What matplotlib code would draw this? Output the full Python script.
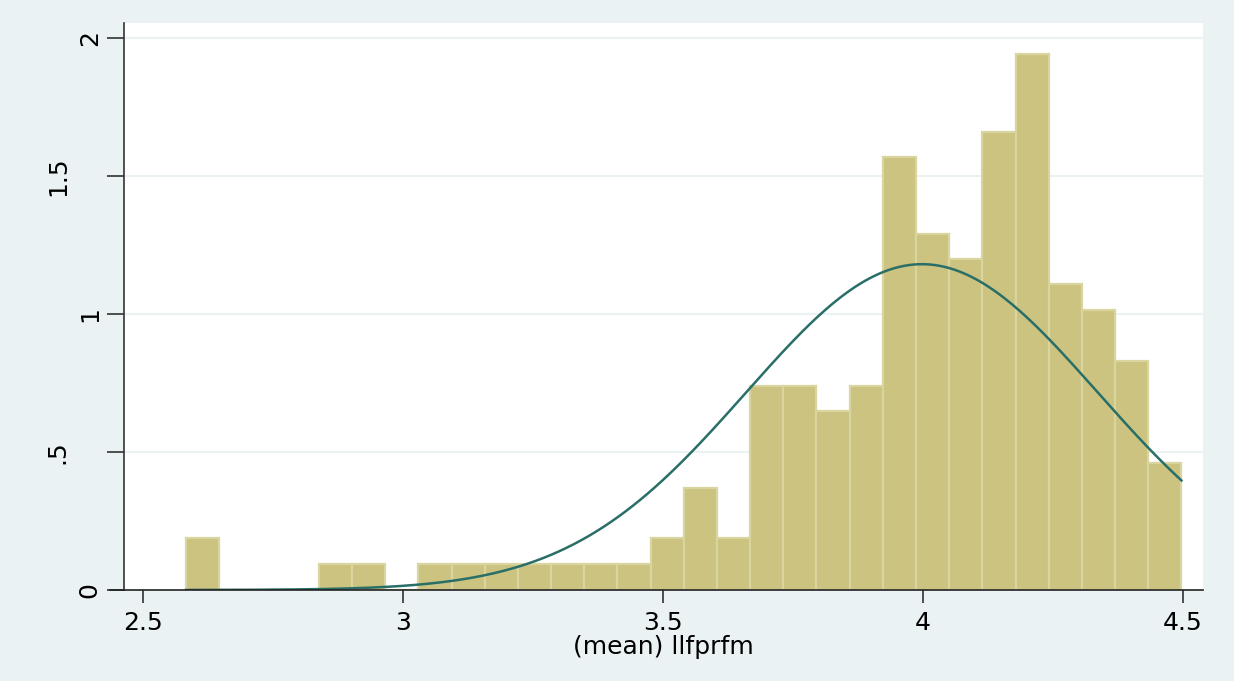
import matplotlib
matplotlib.use("Agg")
import matplotlib.pyplot as plt
import matplotlib.transforms as mtransforms
import numpy as np

# histogram of (mean) llfprfm, density scale, 30 bins
bin_start = 2.583
bin_width = 0.0638
densities = [0.19, 0, 0, 0, 0.094, 0.094, 0, 0.094, 0.094, 0.094,
             0.094, 0.094, 0.094, 0.094, 0.19, 0.37, 0.19, 0.74, 0.74, 0.65,
             0.74, 1.57, 1.29, 1.20, 1.66, 1.94, 1.11, 1.015, 0.83, 0.46]

# normal overlay parameters
norm_mean = 3.998
norm_sd = 0.338

x_ticks = [2.5, 3, 3.5, 4, 4.5]
x_ticklabels = ["2.5", "3", "3.5", "4", "4.5"]
y_ticks = [0, 0.5, 1, 1.5, 2]
y_ticklabels = ["0", ".5", "1", "1.5", "2"]

plt.rcParams['font.family'] = ['DejaVu Sans']

bg = '#eaf2f3'
fig = plt.figure(figsize=(12.34, 6.81), dpi=100, facecolor=bg)
ax = fig.add_axes([124 / 1234, 1 - 590 / 681, (1203 - 124) / 1234, (590 - 23) / 681])
ax.set_facecolor('white')

lefts = bin_start + bin_width * np.arange(len(densities))
ax.bar(lefts, densities, width=bin_width, align='edge',
       color='#cbc37f', edgecolor='#dad59f', linewidth=1.6, zorder=2)

xs = np.linspace(bin_start, bin_start + bin_width * len(densities), 400)
ys = np.exp(-0.5 * ((xs - norm_mean) / norm_sd) ** 2) / (norm_sd * np.sqrt(2 * np.pi))
ax.plot(xs, ys, color='#2a6e68', linewidth=1.8, zorder=3)

ax.set_xlim(2.4635, 4.5385)
ax.set_ylim(0, 2.054)

for y in y_ticks[1:]:
    ax.axhline(y, color=bg, linewidth=1.5, zorder=1)

for s in ['top', 'right', 'bottom']:
    ax.spines[s].set_visible(False)
ax.spines['left'].set_color('#333333')
ax.spines['left'].set_linewidth(1.2)
ax.plot([-0.013, 1], [0, 0], transform=ax.transAxes, color='#222222',
        linewidth=1.2, clip_on=False, zorder=4)

ax.set_xticks(x_ticks)
ax.set_xticklabels(x_ticklabels)
ax.set_yticks(y_ticks)
ax.set_yticklabels(y_ticklabels, rotation=90, va='center')
ax.tick_params(axis='x', length=9, width=1.1, color='#222222', labelsize=18, pad=6)
ax.tick_params(axis='y', length=12, width=1.1, color='#222222', labelsize=18, pad=4)

# labels with a decimal point sit further left in the original
shift = mtransforms.ScaledTranslation(-0.32, 0, fig.dpi_scale_trans)
for lab in ax.get_yticklabels():
    if "." in lab.get_text():
        lab.set_transform(lab.get_transform() + shift)

ax.set_xlabel("(mean) llfprfm", fontsize=18, labelpad=0)

fig.savefig("out.png", dpi=100, facecolor=bg)
